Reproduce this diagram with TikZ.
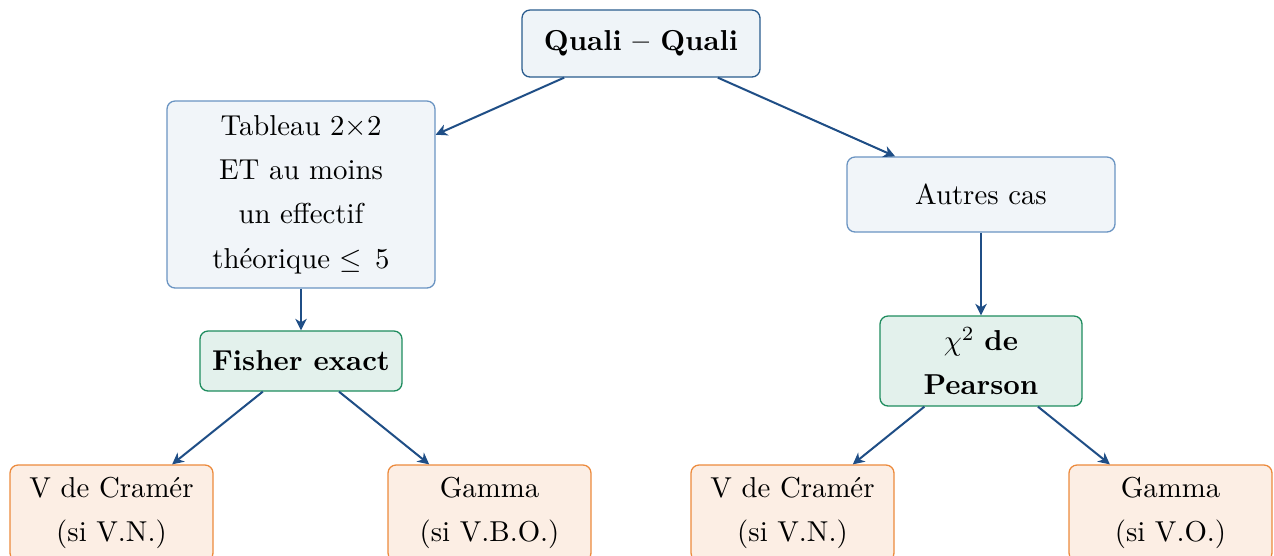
\documentclass[tikz,border=0pt]{standalone}
\usetikzlibrary{arrows.meta}
\definecolor{arrowc}{HTML}{1F4E86}
\definecolor{topfill}{HTML}{EFF4F8}
\definecolor{topdraw}{HTML}{2A5C8E}
\definecolor{midfill}{HTML}{F1F5F9}
\definecolor{middraw}{HTML}{6A94C2}
\definecolor{grfill}{HTML}{E3F1EC}
\definecolor{grdraw}{HTML}{1E8C5E}
\definecolor{orfill}{HTML}{FCEEE4}
\definecolor{ordraw}{HTML}{EC8A3C}
\newcommand\pxu{0.3472pt}
\tikzset{
  box/.style={rounded corners=2.8pt, align=center, inner sep=0pt, line width=0.45pt,
    font=\fontsize{10}{15.4}\selectfont},
  topbox/.style={box, fill=topfill, draw=topdraw, minimum width=238*\pxu, minimum height=67*\pxu},
  midbox/.style={box, fill=midfill, draw=middraw, minimum width=268*\pxu},
  grbox/.style={box, fill=grfill, draw=grdraw, minimum width=202*\pxu},
  orbox/.style={box, fill=orfill, draw=ordraw, minimum width=203*\pxu, minimum height=96*\pxu},
  conn/.style={draw=arrowc, line width=0.7pt, -{Stealth[length=4pt,width=4pt,inset=1.2pt]}}
}
\begin{document}
\begin{tikzpicture}[x=0.3472pt,y=-0.3472pt]
\clip (0,0) rectangle (1274,555);
\useasboundingbox (0,0) rectangle (1274,555);
\node[topbox] (top) at (641,43.5) {\textbf{Quali -- Quali}};
\node[midbox, minimum height=187*\pxu] (tab) at (301,194.5) {Tableau 2$\times$2\\ET au moins\\un effectif\\théorique $\leq$\hspace{1.2pt} 5};
\node[midbox, minimum height=75*\pxu] (autres) at (981,194.5) {Autres cas};
\node[grbox, minimum height=60*\pxu] (fisher) at (301,361) {\textbf{Fisher exact}};
\node[grbox, minimum height=90*\pxu] (chi) at (981,361) {$\chi^2$ \textbf{de}\\\textbf{Pearson}};
\node[orbox] (v1) at (111.5,513) {V de Cramér\\(si V.N.)};
\node[orbox] (g1) at (489.5,513) {Gamma\\(si V.B.O.)};
\node[orbox] (v2) at (792.5,513) {V de Cramér\\(si V.N.)};
\node[orbox] (g2) at (1170.5,513) {Gamma\\(si V.O.)};
\draw[conn] (top) -- (tab);
\draw[conn] (top) -- (autres);
\draw[conn] (tab) -- (fisher);
\draw[conn] (autres) -- (chi);
\draw[conn] (fisher) -- (v1);
\draw[conn] (fisher) -- (g1);
\draw[conn] (chi) -- (v2);
\draw[conn] (chi) -- (g2);
\end{tikzpicture}
\end{document}
